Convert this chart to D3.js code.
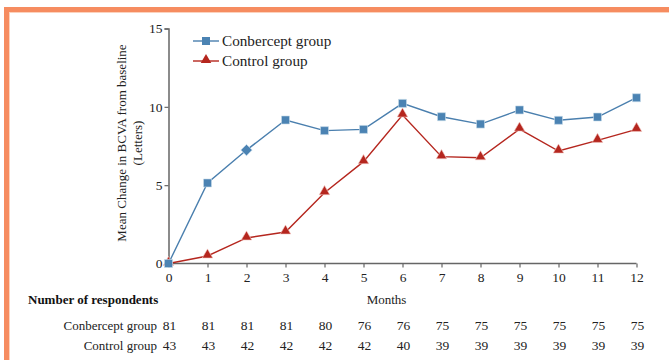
<!DOCTYPE html>
<html><head><meta charset="utf-8">
<script src="https://cdn.jsdelivr.net/npm/d3@7"></script>
<style>
html,body{margin:0;padding:0;background:#fff;}
svg{display:block;}
svg text{font-family:"Liberation Serif","Times New Roman",Times,"DejaVu Serif",serif !important;}
</style></head>
<body>
<svg id="chart" width="669" height="360"></svg>
<script>
const months = [0,1,2,3,4,5,6,7,8,9,10,11,12];
const conbercept = [0,5.14,7.24,9.16,8.48,8.56,10.22,9.37,8.9,9.8,9.14,9.35,10.58];
const control = [0,0.48,1.63,2.01,4.52,6.5,9.48,6.82,6.75,8.58,7.18,7.86,8.56];
const yTicks = [0,5,10,15];
const seriesNames = ["Conbercept group","Control group"];
const nConbercept = [81,81,81,81,80,76,76,75,75,75,75,75,75];
const nControl = [43,43,42,42,42,42,40,39,39,39,39,39,39];

const FS = "13px";
const svg = d3.select("#chart");
// orange frame
svg.append("rect").attr("x",4).attr("y",7).attr("width",680).attr("height",5).attr("fill","#f68c60");
svg.append("rect").attr("x",4).attr("y",7).attr("width",5).attr("height",360).attr("fill","#f68c60");
svg.append("rect").attr("x",9).attr("y",12).attr("width",680).attr("height",1).attr("fill","#fcd2bd");
svg.append("rect").attr("x",9).attr("y",12).attr("width",1).attr("height",360).attr("fill","#fcd2bd");

const x = d3.scaleLinear().domain([0,12]).range([168.5,636.5]);
const y = d3.scaleLinear().domain([0,15]).range([263.5,28.5]);
const axisColor = "#666";

const xAxis = svg.append("g").attr("transform","translate(0,263.5)")
  .call(d3.axisBottom(x).tickValues(months).tickSize(4).tickPadding(5).tickFormat(d3.format("d")));
const yAxis = svg.append("g").attr("transform","translate(168.5,0)")
  .call(d3.axisLeft(y).tickValues(yTicks).tickSize(4).tickPadding(2).tickFormat(d3.format("d")));
[xAxis,yAxis].forEach(g=>{
  g.attr("font-family",null);
  g.select(".domain").attr("stroke",axisColor).attr("stroke-width",1.5);
  g.selectAll(".tick line").attr("stroke",axisColor).attr("stroke-width",1.2);
  g.selectAll("text").attr("fill","#222").style("font-size","13.5px");
});
xAxis.select(".domain").attr("d","M168.5,0H636.5");

// y axis title
const yt = svg.append("text").attr("transform","translate(126,143) rotate(-90)")
  .attr("text-anchor","middle").attr("fill","#222").style("font-size",FS);
yt.append("tspan").attr("x",0).attr("dy",0).text("Mean Change in BCVA from baseline");
yt.append("tspan").attr("x",0).attr("dy",16).text("(Letters)");

const blue = "#4a7fae", blueFill = "#4b83b3", red = "#b5261e";
const line = d3.line().x((d,i)=>x(months[i])).y(d=>y(d));

svg.append("path").datum(control).attr("d",line).attr("fill","none").attr("stroke",red).attr("stroke-width",1.4);
svg.append("path").datum(conbercept).attr("d",line).attr("fill","none").attr("stroke",blue).attr("stroke-width",1.4);

const tri = d3.symbol().type(d3.symbolTriangle).size(48);
svg.selectAll(".tri").data(control).join("path")
  .attr("transform",(d,i)=>`translate(${x(months[i])},${y(d)-1})`)
  .attr("d",tri).attr("fill",red).attr("stroke","#f4c9c4").attr("stroke-width",0.6);

const sq = d3.symbol().type(d3.symbolSquare).size(64);
svg.selectAll(".sq").data(conbercept).join("path")
  .attr("transform",(d,i)=>`translate(${x(months[i])},${y(d)})` + (i===2?" rotate(45)":""))
  .attr("d",sq).attr("fill",blueFill).attr("stroke","#c8dbea").attr("stroke-width",0.6);

// legend
const leg = svg.append("g");
const legY = [41,61];
const legColors = [blue,red];
seriesNames.forEach((name,i)=>{
  leg.append("line").attr("x1",193).attr("x2",219).attr("y1",legY[i]).attr("y2",legY[i]).attr("stroke",legColors[i]).attr("stroke-width",1.4);
  leg.append("path").attr("transform",`translate(206,${legY[i]-(i?1:0)})`)
    .attr("d",i?tri():sq()).attr("fill",i?red:blueFill);
  leg.append("text").attr("x",222).attr("y",legY[i]+5).attr("fill","#222").style("font-size","15.2px").text(name);
});

// x title and table
svg.append("text").attr("x",x(6)-16).attr("y",304).attr("text-anchor","middle").attr("fill","#222").style("font-size",FS).text("Months");
svg.append("text").attr("x",28).attr("y",304).attr("fill","#111").style("font-size",FS).style("font-weight","bold").text("Number of respondents");
const rows = [nConbercept,nControl];
const rowY = [330,350];
rows.forEach((vals,r)=>{
  svg.append("text").attr("x",157).attr("y",rowY[r]).attr("text-anchor","end").attr("fill","#222").style("font-size",FS).text(seriesNames[r]);
  svg.selectAll(null).data(vals).join("text")
    .attr("x",(d,i)=>x(months[i])+1).attr("y",rowY[r]).attr("text-anchor","middle")
    .attr("fill","#222").style("font-size","13.5px").text(d=>d);
});
</script>
</body></html>
